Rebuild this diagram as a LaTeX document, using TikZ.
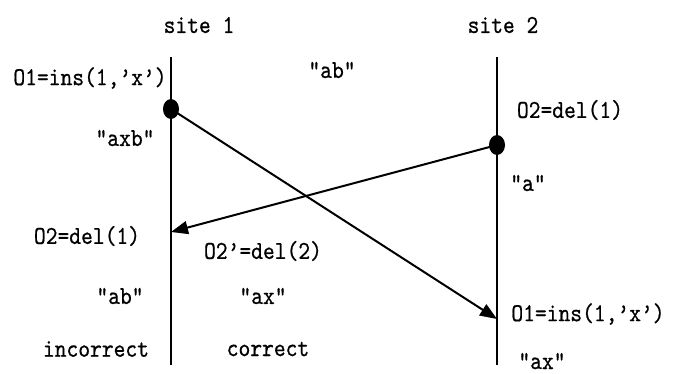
\documentclass[tikz,border=0pt]{standalone}
\usepackage{fontspec}
\newfontfamily\mono[FakeBold=0.6,FakeStretch=0.87]{lmmono10-regular.otf}
\usetikzlibrary{arrows.meta,shapes.geometric}
\begin{document}
\begin{tikzpicture}[x=1pt,y=-1pt,
  lbl/.style={font=\mono\fontsize{25.8}{30}\selectfont, inner sep=0pt, anchor=center},
  timeline/.style={line width=2pt},
  evt/.style={ellipse, fill=black, minimum width=16pt, minimum height=20pt, inner sep=0pt},
  msg/.style={line width=2pt, -{Triangle[length=17pt,width=13pt]}}]
\useasboundingbox (0,0) rectangle (677,374);
% site timelines
\coordinate (s1top) at (171,57);
\coordinate (s1bot) at (171,365);
\coordinate (s2top) at (497,57);
\coordinate (s2bot) at (497,365);
\draw[timeline] (s1top) -- (s1bot);
\draw[timeline] (s2top) -- (s2bot);
% events
\node[evt] (d1) at (171,109) {};
\node[evt] (d2) at (497,145) {};
\coordinate (r1) at (171,232);
\coordinate (r2) at (497,319);
\draw[msg] (d2.center) -- (r1);
\draw[msg] (d1.center) -- (r2);
% labels
\node[lbl] (t1) at (199,25) {site 1};
\node[lbl] (t2) at (503,25) {site 2};
\node[lbl] (o1a) at (90,78) {O1=ins(1,’x’)};
\node[lbl] (ab0) at (332,70) {"ab"};
\node[lbl] (o2a) at (570,110) {O2=del(1)};
\node[lbl] (axb) at (125,138) {"axb"};
\node[lbl] (a) at (528,183) {"a"};
\node[lbl] (o2b) at (87,236) {O2=del(1)};
\node[lbl] (o2p) at (263,251) {O2’=del(2)};
\node[lbl] (ab1) at (120,296) {"ab"};
\node[lbl] (ax1) at (263,296) {"ax"};
\node[lbl] (inc) at (96,349) {incorrect};
\node[lbl] (cor) at (268,349) {correct};
\node[lbl] (o1b) at (588,314) {O1=ins(1,’x’)};
\node[lbl, anchor=base] (ax2) at (542,369) {"ax"};
\end{tikzpicture}
\end{document}
